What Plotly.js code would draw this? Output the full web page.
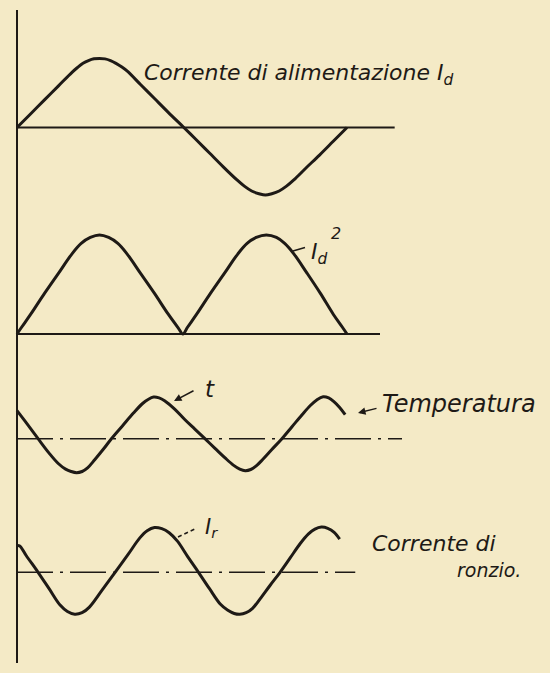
<!DOCTYPE html>
<html>
<head>
<meta charset="utf-8">
<script src="https://cdn.plot.ly/plotly-3.0.1.min.js"></script>
<style>
html,body{margin:0;padding:0;background:#f4eac6;}
#chart{width:550px;height:673px;}
</style>
</head>
<body>
<div id="chart"></div>
<script>
// ---- data (x = phase of the supply current in degrees, y = relative amplitude) ----
const supplyPhase   = [0,15,30,45,60,66,72,78,84,90,96,102,108,114,120,135,150,165,182,195,210,225,240,248,256,264,271,278,286,294,302,315,330,345,360];
const supplyCurrent = [0,0.20,0.40,0.60,0.80,0.87,0.93,0.97,0.995,1.0,0.995,0.97,0.93,0.88,0.82,0.62,0.42,0.22,0,-0.17,-0.37,-0.57,-0.76,-0.85,-0.92,-0.96,-0.98,-0.96,-0.92,-0.85,-0.76,-0.59,-0.40,-0.20,0];

const squarePhase   = [0,5,15,30,45,60,70,80,90,100,110,120,135,150,165,176,181,186,196,211,226,241,251,261,272,283,292,302,316,331,345,355,360];
const squareCurrent = [0,0.068,0.20,0.41,0.61,0.81,0.915,0.975,1.0,0.975,0.915,0.81,0.61,0.41,0.20,0.06,0,0.068,0.20,0.41,0.61,0.81,0.915,0.975,1.0,0.975,0.915,0.81,0.62,0.41,0.20,0.068,0];

const tempPhase   = [0,10,23,35,45,53,59,65,71,77,85,95,103,115,127,137,143,149,155,161,172,183,194,205,216,227,236,243,249,255,261,268,278,289,300,311,320,327,334,340,346,352,358];
const temperature = [0.70,0.40,0,-0.36,-0.62,-0.76,-0.82,-0.85,-0.82,-0.73,-0.52,-0.24,0,0.32,0.64,0.88,0.98,1.04,1.02,0.95,0.74,0.48,0.24,0,-0.24,-0.48,-0.66,-0.76,-0.80,-0.77,-0.68,-0.52,-0.27,0,0.30,0.60,0.83,0.97,1.05,1.02,0.92,0.78,0.60];

const humPhase   = [0,3,10,23,35,47,55,63,71,79,93,107,121,134,142,150,158,166,175,186,198,210,222,230,237,243,250,257,265,276,287,298,309,318,325,332,339,346,352];
const humCurrent = [0.67,0.66,0.42,0,-0.41,-0.82,-0.98,-1.05,-1.01,-0.87,-0.44,0,0.44,0.86,1.04,1.12,1.09,0.99,0.78,0.40,0,-0.41,-0.80,-0.95,-1.03,-1.05,-1.01,-0.90,-0.67,-0.33,0,0.36,0.72,0.96,1.08,1.13,1.10,1.00,0.83];

const labelSupply = 'Corrente di alimentazione I<sub>d</sub>';
const labelSquare = 'I<sub>d</sub>';
const labelSquareExp = '2';
const labelT = 't';
const labelTemp = 'Temperatura';
const labelIr = 'I<sub>r</sub>';
const labelHum1 = 'Corrente di';
const labelHum2 = 'ronzio.';

// ---- layout helpers ----
const W = 550, H = 673;
const INK = '#1e1a16';
const BG = '#f4eac6';
const X0 = 17, PXDEG = 330/360;            // phase 0 at pixel 17, 360 deg spans 330 px
const px = v => v / W;
const py = v => 1 - v / H;

function yax(base, unit, top, bottom) {
  return {
    domain: [1 - bottom / H, 1 - top / H],
    range: [-(bottom - base) / unit, (base - top) / unit],
    anchor: 'x', visible: false, fixedrange: true
  };
}

const curve = (x, y, ax) => ({
  x: x, y: y, yaxis: ax, type: 'scatter', mode: 'lines',
  line: {color: INK, width: 3, shape: 'spline', smoothing: 1},
  hoverinfo: 'skip', showlegend: false
});

const traces = [
  curve(supplyPhase, supplyCurrent, 'y'),
  curve(squarePhase, squareCurrent, 'y2'),
  curve(tempPhase, temperature, 'y3'),
  curve(humPhase, humCurrent, 'y4')
];

const dashDot = '36px,7px,3px,7px';
const shapes = [
  {type:'line', xref:'x', yref:'paper', x0:0, x1:0, y0:py(663), y1:py(10), line:{color:INK, width:2}},
  {type:'line', xref:'x', yref:'y',  x0:0, x1:412, y0:0, y1:0, line:{color:INK, width:2}},
  {type:'line', xref:'x', yref:'y2', x0:0, x1:396, y0:0, y1:0, line:{color:INK, width:2}},
  {type:'line', xref:'x', yref:'y3', x0:0, x1:420, y0:0, y1:0, line:{color:INK, width:1.5, dash:dashDot}},
  {type:'line', xref:'x', yref:'y4', x0:0, x1:369, y0:0, y1:0, line:{color:INK, width:1.5, dash:dashDot}},
  // short leader of I_d^2
  {type:'line', xref:'paper', yref:'paper', x0:px(293), y0:py(251), x1:px(305), y1:py(247.5), line:{color:INK, width:1.5}},
  // dashed leader of I_r
  {type:'line', xref:'paper', yref:'paper', x0:px(178), y0:py(537), x1:px(197), y1:py(528), line:{color:INK, width:1.5, dash:'4px,3px'}}
];

const tf = (size) => ({family:'DejaVu Sans', size:size, color:INK, style:'italic'});
const txt = (text, x, y, size) => ({
  text: text, x: px(x), y: py(y), xref:'paper', yref:'paper',
  xanchor:'left', yanchor:'middle', showarrow:false, font: tf(size)
});
const arrow = (hx, hy, ax, ay) => ({
  text:'', x: px(hx), y: py(hy), xref:'paper', yref:'paper',
  showarrow:true, ax: ax, ay: ay, arrowhead:2, arrowsize:1, arrowwidth:1.5, arrowcolor:INK, standoff:0
});

const annotations = [
  txt(labelSupply, 142, 74, 22),
  txt(labelSquare, 309, 253, 22),
  txt(labelSquareExp, 329, 233, 16),
  txt(labelT, 203, 389, 23),
  txt(labelTemp, 380, 404, 24),
  txt(labelIr, 203, 528, 21),
  txt(labelHum1, 370, 543, 22),
  txt(labelHum2, 455, 570, 19),
  arrow(174, 401, 21, -11),
  arrow(358, 413, 20, -5)
];

const layout = {
  width: W, height: H,
  margin: {l:0, r:0, t:0, b:0, pad:0},
  paper_bgcolor: BG, plot_bgcolor: BG,
  showlegend: false,
  xaxis: {range: [-X0 / PXDEG, (W - X0) / PXDEG], visible: false, fixedrange: true, domain: [0, 1]},
  yaxis:  yax(127.5, 69, 30, 212),
  yaxis2: yax(334, 99, 215, 345),
  yaxis3: yax(438.7, 40, 372, 495),
  yaxis4: yax(572.3, 40, 505, 640),
  shapes: shapes,
  annotations: annotations
};

Plotly.newPlot('chart', traces, layout, {staticPlot: true, displayModeBar: false});
</script>
</body>
</html>
